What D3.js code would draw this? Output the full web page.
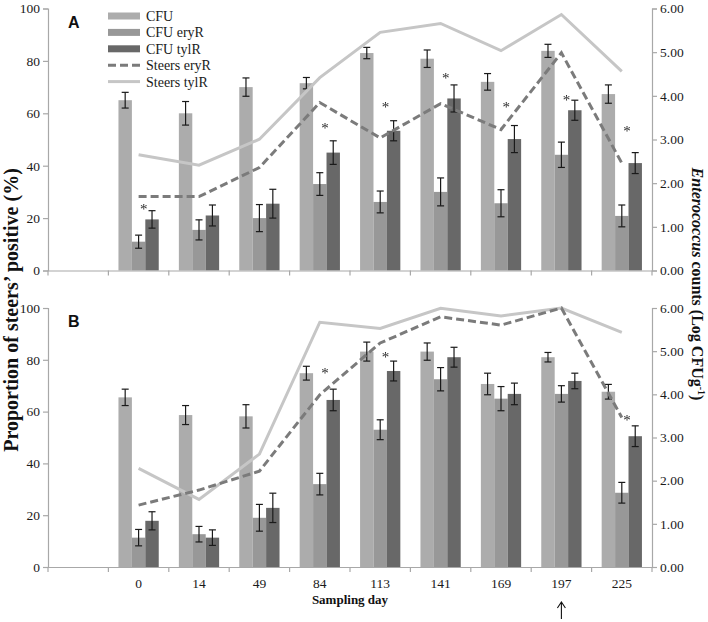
<!DOCTYPE html>
<html>
<head>
<meta charset="utf-8">
<script src="https://cdn.jsdelivr.net/npm/d3@7"></script>
<style>
  html, body { margin: 0; padding: 0; background: #fff; }
  svg { display: block; }
  text { font-family: "Liberation Serif", "Times New Roman", serif; }
  text.sans { font-family: "Liberation Sans", Arial, sans-serif; }
  g.stars { filter: grayscale(1); }
</style>
</head>
<body>
<svg id="chart" width="708" height="622"></svg>
<script>
// ---------------- DATA ----------------
const days = ["", "0", "14", "49", "84", "113", "141", "169", "197", "225"];
const sampleDays = ["0", "14", "49", "84", "113", "141", "169", "197", "225"];
const seriesNames = ["CFU", "CFU eryR", "CFU tylR", "Steers eryR", "Steers tylR"];
const leftTicks = [0, 20, 40, 60, 80, 100];
const rightTicks = [0, 1, 2, 3, 4, 5, 6];

// Panel A  (bars: log CFU g-1, right axis; lines: % steers positive, left axis)
const cfuA      = [3.90, 3.60, 4.20, 4.29, 4.98, 4.85, 4.32, 5.03, 4.04];
const cfuAErr   = [0.18, 0.27, 0.21, 0.13, 0.13, 0.20, 0.19, 0.15, 0.21];
const eryA      = [0.66, 0.93, 1.20, 1.98, 1.57, 1.80, 1.54, 2.65, 1.25];
const eryAErr   = [0.15, 0.23, 0.31, 0.26, 0.25, 0.32, 0.31, 0.29, 0.25];
const tylA      = [1.17, 1.26, 1.53, 2.70, 3.20, 3.94, 3.01, 3.67, 2.46];
const tylAErr   = [0.20, 0.24, 0.33, 0.27, 0.23, 0.31, 0.31, 0.23, 0.24];
const starA     = [1.46, null, null, 3.30, 3.78, 4.45, 3.78, 3.94, 3.25];
const steersEryA = [28.2, 28.2, 39.3, 64.1, 50.6, 63.7, 53.8, 83.1, 41.0];
const steersTylA = [44.2, 40.2, 50.1, 73.6, 90.9, 94.3, 83.9, 97.7, 76.0];

// Panel B
const cfuB      = [3.93, 3.52, 3.49, 4.49, 4.99, 4.99, 4.24, 4.86, 4.06];
const cfuBErr   = [0.19, 0.22, 0.27, 0.16, 0.22, 0.20, 0.25, 0.11, 0.17];
const eryB      = [0.68, 0.76, 1.14, 1.92, 3.18, 4.35, 3.90, 4.01, 1.72];
const eryBErr   = [0.19, 0.18, 0.31, 0.25, 0.23, 0.27, 0.28, 0.19, 0.24];
const tylB      = [1.07, 0.68, 1.37, 3.87, 4.54, 4.86, 4.01, 4.31, 3.03];
const tylBErr   = [0.21, 0.18, 0.34, 0.25, 0.23, 0.23, 0.25, 0.18, 0.24];
const starB     = [null, null, null, 4.54, 4.91, null, null, null, 3.46];
const steersEryB = [23.9, 29.7, 37.0, 66.5, 86.5, 96.6, 93.4, 100, 57.7];
const steersTylB = [38.1, 26.1, 43.6, 94.5, 92.1, 99.9, 96.9, 100, 90.6];

const arrowDay = "197";

// ---------------- LAYOUT / STYLE ----------------
const svg = d3.select("#chart");
const X0 = 48, X1 = 652;
const colors = { cfu: "#acacac", ery: "#989898", tyl: "#686868", lEry: "#7b7b7b", lTyl: "#c6c6c6" };
const axisColor = "#a8a8a8";

const x = d3.scaleBand().domain(days).range([X0, X1]).paddingInner(0).paddingOuter(0);
const xs = d3.scaleBand().domain(["cfu", "ery", "tyl"]).range([0, x.bandwidth()]).paddingInner(0).paddingOuter(0.75);

const panels = [
  { label: "A", top: 8.5, bottom: 270.5, cfu: cfuA, cfuE: cfuAErr, ery: eryA, eryE: eryAErr, tyl: tylA, tylE: tylAErr,
    star: starA, lEry: steersEryA, lTyl: steersTylA, xLabels: false },
  { label: "B", top: 308, bottom: 567, cfu: cfuB, cfuE: cfuBErr, ery: eryB, eryE: eryBErr, tyl: tylB, tylE: tylBErr,
    star: starB, lEry: steersEryB, lTyl: steersTylB, xLabels: true }
];

panels.forEach(p => {
  const yL = d3.scaleLinear().domain([0, 100]).range([p.bottom, p.top]);
  const yR = d3.scaleLinear().domain([0, 6]).range([p.bottom, p.top]);
  const g = svg.append("g");

  // bars
  const groups = [["cfu", p.cfu, p.cfuE], ["ery", p.ery, p.eryE], ["tyl", p.tyl, p.tylE]];
  groups.forEach(([key, vals, errs]) => {
    g.append("g").selectAll("rect").data(sampleDays).join("rect")
      .attr("x", (d) => x(d) + xs(key))
      .attr("width", xs.bandwidth())
      .attr("y", (d, i) => yR(vals[i]))
      .attr("height", (d, i) => yR(0) - yR(vals[i]))
      .attr("fill", colors[key]);
  });
  // error bars
  groups.forEach(([key, vals, errs]) => {
    const eg = g.append("g").attr("stroke", "#1a1a1a").attr("stroke-width", 1.2);
    sampleDays.forEach((d, i) => {
      const cx = x(d) + xs(key) + xs.bandwidth() / 2;
      const y1 = yR(vals[i] + errs[i]), y2 = yR(vals[i] - errs[i]);
      eg.append("line").attr("x1", cx).attr("x2", cx).attr("y1", y1).attr("y2", y2);
      eg.append("line").attr("x1", cx - 3.5).attr("x2", cx + 3.5).attr("y1", y1).attr("y2", y1);
      eg.append("line").attr("x1", cx - 3.5).attr("x2", cx + 3.5).attr("y1", y2).attr("y2", y2);
    });
  });

  // lines
  const line = d3.line().x(d => x(d[0]) + x.bandwidth() / 2).y(d => yL(d[1]));
  g.append("path").datum(sampleDays.map((d, i) => [d, p.lTyl[i]]))
    .attr("d", line).attr("fill", "none").attr("stroke", colors.lTyl).attr("stroke-width", 3);
  g.append("path").datum(sampleDays.map((d, i) => [d, p.lEry[i]]))
    .attr("d", line).attr("fill", "none").attr("stroke", colors.lEry).attr("stroke-width", 3)
    .attr("stroke-dasharray", "8,4");

  // significance stars
  const sg = g.append("g").attr("class", "stars");
  sampleDays.forEach((d, i) => {
    if (p.star[i] == null) return;
    sg.append("text")
      .attr("x", x(d) + xs("tyl") - 1.5)
      .attr("y", yR(p.star[i]) + 7)
      .attr("text-anchor", "middle")
      .attr("font-size", 15).attr("fill", "#2a2a2a")
      .text("*");
  });

  // axes
  const axL = g.append("g").attr("transform", `translate(${X0},0)`)
    .call(d3.axisLeft(yL).tickValues(leftTicks).tickSize(5).tickPadding(3).tickFormat(d3.format("d")));
  const axR = g.append("g").attr("transform", `translate(${X1},0)`)
    .call(d3.axisRight(yR).tickValues(rightTicks).tickSize(5).tickPadding(3).tickFormat(d3.format(".2f")));
  const axB = g.append("g").attr("transform", `translate(0,${p.bottom})`)
    .call(d3.axisBottom(x).tickSize(0).tickPadding(11).tickFormat(d => p.xLabels ? d : ""));
  [axL, axR, axB].forEach(a => {
    a.selectAll(".domain").attr("stroke", axisColor).attr("stroke-width", 1.2);
    a.selectAll(".tick line").attr("stroke", axisColor).attr("stroke-width", 1.2);
    a.selectAll("text").attr("font-size", 13.5).attr("fill", "#1a1a1a");
  });
  // category boundary ticks on the x axis
  const bounds = days.map(d => x(d)).concat([X1]);
  g.append("g").selectAll("line").data(bounds).join("line")
    .attr("x1", d => d).attr("x2", d => d)
    .attr("y1", p.bottom).attr("y2", p.bottom + 5)
    .attr("stroke", axisColor).attr("stroke-width", 1.2);

  // panel label
  g.append("text").attr("class", "sans").attr("x", 68).attr("y", p.top + 19)
    .attr("font-weight", "bold").attr("font-size", 16).attr("fill", "#111")
    .text(p.label);
});

// ---------------- LEGEND ----------------
const leg = svg.append("g");
const legY0 = 16, legDy = 16.4, legX = 108, legW = 32;
seriesNames.forEach((name, i) => {
  const cy = legY0 + i * legDy;
  if (i < 3) {
    const key = ["cfu", "ery", "tyl"][i];
    leg.append("rect").attr("x", legX).attr("y", cy - 3.5).attr("width", legW).attr("height", 7).attr("fill", colors[key]);
  } else {
    const ln = leg.append("line").attr("x1", legX).attr("x2", legX + legW).attr("y1", cy).attr("y2", cy)
      .attr("stroke-width", 3).attr("stroke", i === 3 ? colors.lEry : colors.lTyl);
    if (i === 3) ln.attr("stroke-dasharray", "8,4");
  }
  leg.append("text").attr("x", legX + legW + 6).attr("y", cy + 5)
    .attr("font-size", 14).attr("fill", "#1a1a1a").text(name);
});

// ---------------- AXIS TITLES ----------------
svg.append("text")
  .attr("transform", "translate(18,310) rotate(-90)")
  .attr("text-anchor", "middle").attr("font-weight", "bold").attr("font-size", 20).attr("fill", "#111")
  .text("Proportion of steers\u2019 positive (%)");

const rt = svg.append("text")
  .attr("transform", "translate(692,284) rotate(90)")
  .attr("text-anchor", "middle").attr("font-weight", "bold").attr("font-size", 16).attr("fill", "#111");
rt.append("tspan").attr("font-style", "italic").text("Enterococcus");
rt.append("tspan").text(" counts (Log CFUg");
rt.append("tspan").attr("font-size", 10).attr("dy", -6).text("-1");
rt.append("tspan").attr("dy", 6).text(")");

svg.append("text").attr("x", 350).attr("y", 604)
  .attr("text-anchor", "middle").attr("font-weight", "bold").attr("font-size", 13).attr("fill", "#111")
  .text("Sampling day");

// arrow under selected sampling day
const ax = x(arrowDay) + x.bandwidth() / 2;
svg.append("path")
  .attr("d", `M${ax},619 L${ax},602 M${ax - 4},608 L${ax},602 L${ax + 4},608`)
  .attr("fill", "none").attr("stroke", "#111").attr("stroke-width", 1.1);
</script>
</body>
</html>
